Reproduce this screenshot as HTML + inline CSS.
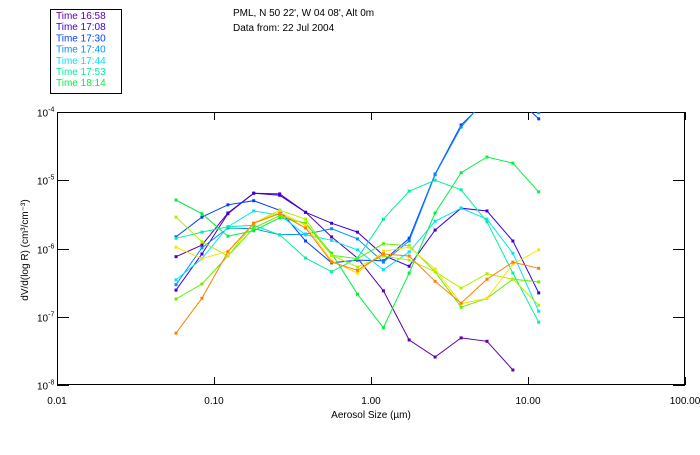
<!DOCTYPE html>
<html><head><meta charset="utf-8"><style>
body{margin:0;background:#fff;}
svg text{font-family:"Liberation Sans",sans-serif;font-size:10px;fill:#000;}
</style></head><body>
<svg width="700" height="450" xmlns="http://www.w3.org/2000/svg">
<defs><clipPath id="pc"><rect x="57" y="112" width="628" height="273"/></clipPath></defs>
<rect x="0" y="0" width="700" height="450" fill="#fff"/>
<text x="233" y="16">PML, N 50 22', W 04 08', Alt 0m</text>
<text x="233" y="31">Data from: 22 Jul 2004</text>
<rect x="50.5" y="9.5" width="71" height="84" fill="none" stroke="#000"/>
<g id="legend"></g>
<g id="axes"></g>
<g id="series" clip-path="url(#pc)"></g>
<text x="371" y="418" text-anchor="middle">Aerosol Size (µm)</text>
<text transform="translate(28,250) rotate(-90)" text-anchor="middle">dV/d(log R) (cm³/cm⁻³)</text>
</svg>
<script>
const sizes=[0.0573,0.0838,0.1226,0.179,0.262,0.383,0.561,0.820,1.20,1.75,2.56,3.75,5.48,8.01,11.7];
const seriesNames=["s1658","s1708","s1730","s1740","s1744","s1753","s1814","sLime","sYellowGreen","sYellow","sOrange"];
const logV1658=[-6.12,-5.95,-5.48,-5.19,-5.20,-5.47,-5.83,-6.14,-6.62,-7.34,-7.59,-7.31,-7.36,-7.78];
const logV1708=[-6.61,-6.08,-5.49,-5.19,-5.22,-5.47,-5.63,-5.76,-6.10,-6.26,-5.73,-5.41,-5.45,-5.89,-6.65];
const logV1730=[-5.83,-5.54,-5.36,-5.30,-5.44,-5.89,-6.21,-6.17,-6.18,-5.85,-4.91,-4.19,-3.82,-3.75,-4.10];
const logV1740=[-6.53,-5.99,-5.70,-5.71,-5.80,-5.79,-5.71,-5.86,-6.20,-5.89,-4.92,-4.22,-3.79,-3.71,-4.01];
const logV1744=[-6.46,-6.15,-5.68,-5.45,-5.51,-5.80,-5.88,-6.02,-6.31,-6.05,-5.60,-5.41,-5.57,-6.07,-6.92];
const logV1753=[-5.85,-5.76,-5.68,-5.66,-5.80,-6.14,-6.34,-6.14,-5.57,-5.16,-5.00,-5.14,-5.61,-6.36,-7.08];
const logV1814=[-5.29,-5.49,-5.82,-5.74,-5.55,-5.63,-6.07,-6.67,-7.16,-6.36,-5.48,-4.89,-4.66,-4.75,-5.17];
const logVLime=[-6.74,-6.52,-6.11,-5.70,-5.52,-5.63,-6.10,-6.15,-5.93,-5.96,-6.34,-6.86,-6.73,-6.45,-6.49];
const logVYG=[-5.54,-5.90,-6.11,-5.63,-5.44,-5.57,-6.10,-6.27,-6.11,-6.17,-6.34,-6.58,-6.37,-6.45,-6.83];
const logVYellow=[-5.98,-6.15,-6.04,-5.63,-5.47,-5.66,-6.18,-6.36,-6.04,-5.98,-6.30,-6.81,-6.73,-6.23,-6.02];
const logVOrange=[-7.24,-6.73,-6.05,-5.63,-5.49,-5.70,-6.20,-6.32,-6.08,-6.11,-6.48,-6.80,-6.45,-6.20,-6.29];
const xTickVals=[0.01,0.1,1,10,100];
const xTickLabels=["0.01","0.10","1.00","10.00","100.00"];
const yTickExps=[-4,-5,-6,-7,-8];
const legendLabels=["Time 16:58","Time 17:08","Time 17:30","Time 17:40","Time 17:44","Time 17:53","Time 18:14"];

const colors=["#5a00a8","#3a00e0","#0040ff","#0090ff","#00e4ff","#00f0a0","#00f040","#60f000","#b0f000","#ffe000","#ff8000"];
const allSeries=[logV1658,logV1708,logV1730,logV1740,logV1744,logV1753,logV1814,logVLime,logVYG,logVYellow,logVOrange];
const X0=57,X1=685,Y0=112,Y1=385;
function xs(v){return X0+(Math.log10(v)+2)/4*(X1-X0);}
function ys(lv){return Y0+(-4-lv)/4*(Y1-Y0);}
const NS="http://www.w3.org/2000/svg";
function mk(t,a){const e=document.createElementNS(NS,t);for(const k in a)e.setAttribute(k,a[k]);return e;}
const axes=document.getElementById('axes');
const frame=mk('rect',{x:X0+0.5,y:Y0+0.5,width:X1-X0-1,height:Y1-Y0-1,fill:'none',stroke:'#000'});


axes.appendChild(frame);
xTickVals.forEach((v,i)=>{
  const x=Math.round(xs(v))+0.5;
  const t1=mk('line',{x1:x,x2:x,y1:Y1,y2:Y1-8,stroke:'#000'});
  
  
  axes.appendChild(t1);
  const t2=mk('line',{x1:x,x2:x,y1:Y0,y2:Y0+8,stroke:'#000'});
  
  
  axes.appendChild(t2);
  const tl=mk('text',{x:xs(v),y:Y1+19,'text-anchor':'middle'});
  tl.textContent=xTickLabels[i];
  
  
  axes.appendChild(tl);
});
yTickExps.forEach(e=>{
  const y=Math.round(ys(e))+0.5;
  const t1=mk('line',{x1:X0,x2:X0+12,y1:y,y2:y,stroke:'#000'});
  
  
  axes.appendChild(t1);
  const t2=mk('line',{x1:X1,x2:X1-12,y1:y,y2:y,stroke:'#000'});
  
  
  axes.appendChild(t2);
  const tl=mk('text',{x:37,y:y+4,'text-anchor':'start'});
  tl.innerHTML='10<tspan dy="-5" font-size="7">'+e+'</tspan>';
  
  
  axes.appendChild(tl);
});
const sg=document.getElementById('series');
allSeries.forEach((arr,si)=>{
  const g=mk('g',{});
  
  
  const pts=arr.map((lv,k)=>xs(sizes[k]).toFixed(1)+','+ys(lv).toFixed(1)).join(' ');
  const pl=mk('polyline',{points:pts,fill:'none',stroke:colors[si],'stroke-width':1});
  
  
  g.appendChild(pl);
  arr.forEach((lv,k)=>{
    const r=mk('rect',{x:xs(sizes[k])-1.5,y:ys(lv)-1.5,width:3,height:3,fill:colors[si]});
    
    
    g.appendChild(r);
  });
  sg.appendChild(g);
});
const lg=document.getElementById('legend');
legendLabels.forEach((l,i)=>{
  const t=mk('text',{x:56,y:19+i*11.2,fill:colors[i]});
  t.style.fill=colors[i];
  t.textContent=l;
  
  
  lg.appendChild(t);
});
</script>
</body></html>
